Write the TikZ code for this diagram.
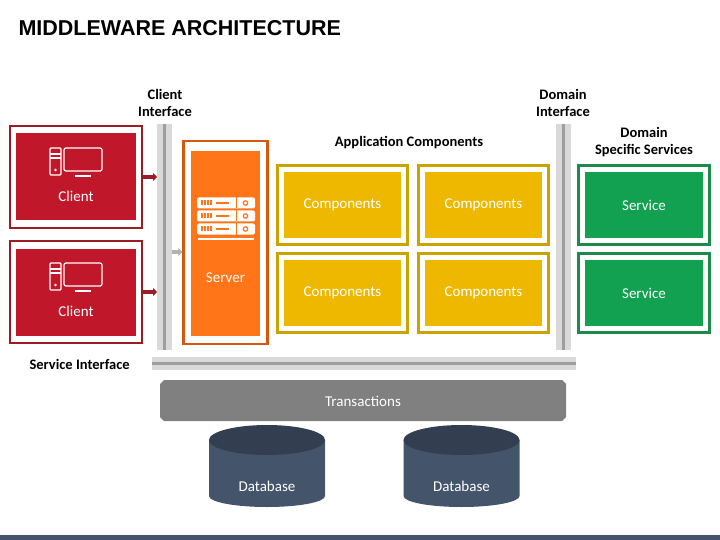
\documentclass[tikz,border=0pt]{standalone}
\usepackage{fontspec}
\setmainfont{Carlito}
\newfontfamily\titlefont{Liberation Sans}
\usetikzlibrary{positioning,arrows.meta}
\definecolor{cred}{HTML}{C0182A}
\definecolor{credd}{HTML}{9B1C24}
\definecolor{corange}{HTML}{FF7518}
\definecolor{corangd}{HTML}{D4580E}
\definecolor{cgold}{HTML}{EEB800}
\definecolor{cgoldd}{HTML}{C9A300}
\definecolor{cgreen}{HTML}{12A150}
\definecolor{cgreend}{HTML}{1C8A4A}
\definecolor{cslate}{HTML}{44546A}
\definecolor{cslated}{HTML}{333F50}
\begin{document}
\begin{tikzpicture}[x=1pt, y=-1pt,
    outer/.style = {draw=#1, line width=2.5pt, fill=white, inner sep=0pt},
    inner/.style = {fill=#1, text=white, font=\fontsize{15}{17}\selectfont, inner sep=0pt},
    label/.style = {font=\bfseries\fontsize{14.5}{17}\selectfont, align=center},
    bar/.style = {fill=black!15, draw=none},
    barline/.style = {draw=black!38, line width=2.5pt},
    arr/.style = {line width=4pt, -{Triangle[length=4pt,width=8pt]}}]
    \useasboundingbox (0,0) rectangle (720,540);
    \fill[cslate] (0,535) rectangle (720,540);

    \node[anchor=west, font=\titlefont\bfseries\fontsize{21.5}{24}\selectfont] (title) at (15,28) {MIDDLEWARE ARCHITECTURE};

    % clients
    \foreach \n/\y in {1/177, 2/292} {
        \node[outer=credd, minimum width=132pt, minimum height=102pt] (cl\n) at (76,\y) {};
        \node[inner=cred, minimum width=120pt, minimum height=87pt] (c\n) at (76,\y) {};
        \node[text=white, font=\fontsize{15}{17}\selectfont] (ct\n) at (76,\y+19) {Client};
        \begin{scope}[shift={(76,\y-15)}, white]
            \draw[line width=1.2pt, rounded corners=1pt] (-26,-14) rectangle (-15,13);
            \draw[line width=1.2pt] (-26,-8) -- (-15,-8) (-26,-4) -- (-15,-4);
            \fill (-20.5,8) circle (1.3pt);
            \draw[line width=1.2pt, rounded corners=2pt] (-12,-14) rectangle (26,9);
            \draw[line width=1.5pt] (-1,14) -- (15,14);
        \end{scope}
    }

    % interfaces
    \fill[bar] (157,124) rectangle (172,350);
    \draw[barline] (164.5,124) -- (164.5,350);
    \fill[bar] (556,124) rectangle (571,350);
    \draw[barline] (563.5,124) -- (563.5,350);
    \fill[bar] (152,357) rectangle (576,370);
    \draw[barline] (152,363.5) -- (576,363.5);
    \coordinate (ci) at (157,250);

    \draw[arr, credd] (cl1.east) -- (cl1.east -| ci);
    \draw[arr, credd] (cl2.east) -- (cl2.east -| ci);

    \node[label] (cilabel) at (165,103) {Client\\Interface};
    \node[label] (dilabel) at (563,103) {Domain\\Interface};
    \node[label, anchor=west] (silabel) at (26,364) {Service Interface};
    \node[label] (aclabel) at (409,143) {Application Components};
    \node[label] (dslabel) at (644,142) {Domain\\Specific Services};

    % server
    \node[outer=corangd, minimum width=84pt, minimum height=203pt] (srv) at (225.5,242.5) {};
    \node[inner=corange, minimum width=69pt, minimum height=185pt] (s) at (225.5,243.5) {};
    \node[text=white, font=\fontsize{15}{17}\selectfont] (st) at (225.5,278) {Server};
    \begin{scope}[shift={(226,217)}, white]
        \foreach \yy in {-14,-1,12} {
            \fill[rounded corners=2pt] (-29,\yy-5.5) rectangle (29,\yy+5.5);
            \draw[corange, line width=1pt] (10,\yy-5.5) -- (10,\yy+5.5);
            \draw[corange, line width=1.2pt] (19.5,\yy) circle (2.2pt);
            \foreach \xx in {-24,-21,-18,-15} \draw[corange, line width=1.3pt] (\xx,\yy-2.5) -- (\xx,\yy+2.5);
            \draw[corange, line width=1.8pt] (-10,\yy) -- (3,\yy);
        }
        \draw[line width=1.5pt] (-28,22) -- (28,22);
    \end{scope}
    \coordinate (sa) at (172,252);
    \draw[arr, black!30] (sa) -- (sa -| srv.west);

    % components
    \foreach \n/\x/\y in {1/342.5/205, 2/483.5/205, 3/342.5/293, 4/483.5/293} {
        \node[outer=cgoldd, minimum width=130pt, minimum height=79pt] (cmp\n) at (\x,\y) {};
        \node[inner=cgold, minimum width=117pt, minimum height=66pt] (cm\n) at (\x,\y) {Components};
    }

    % services
    \foreach \n/\y in {1/205, 2/293} {
        \node[outer=cgreend, minimum width=131pt, minimum height=79pt] (svc\n) at (644,\y) {};
        \node[inner=cgreen, minimum width=118pt, minimum height=66pt] (sv\n) at (644,\y) {Service};
    }

    % transactions
    \fill[black!50] (164,380) -- (562,380) -- (566,384) -- (566,417) -- (562,421)
        -- (164,421) -- (160,417) -- (160,384) -- cycle;
    \node[text=white, font=\fontsize{15}{17}\selectfont] (tr) at (363,401) {Transactions};

    % databases
    \foreach \n/\x in {1/267, 2/461.5} {
        \fill[cslate] (\x-58,440) -- (\x-58,496) arc[start angle=180, end angle=0, x radius=58, y radius=11] -- (\x+58,440) -- cycle;
        \fill[cslated] (\x,440) ellipse[x radius=58, y radius=15];
        \node[text=white, font=\fontsize{15}{17}\selectfont] (db\n) at (\x,486) {Database};
    }
\end{tikzpicture}
\end{document}
